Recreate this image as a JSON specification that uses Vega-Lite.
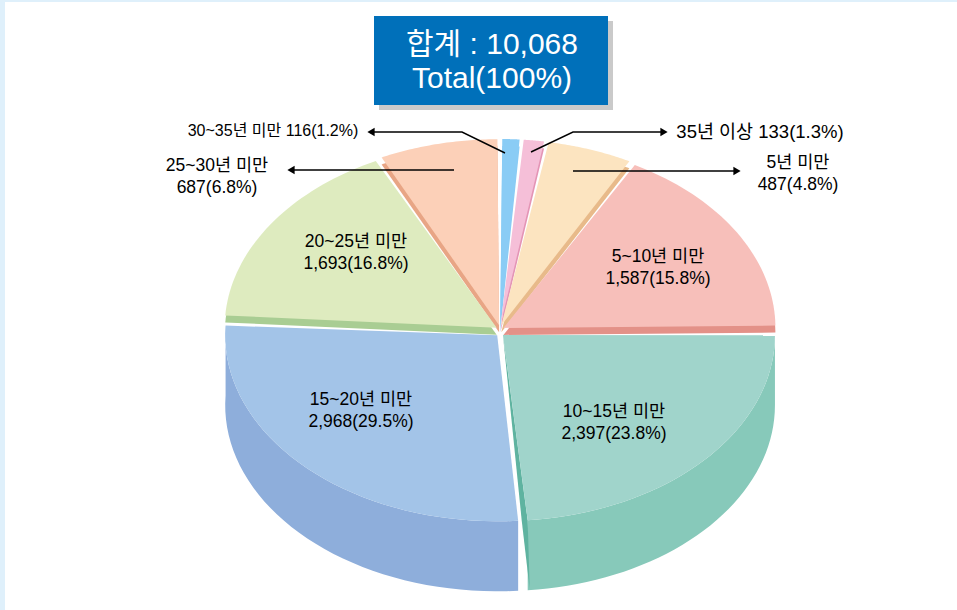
{
"$schema":"https://vega.github.io/schema/vega-lite/v6.json",
"width":952,"height":608,"padding":{"left":5,"top":2,"right":0,"bottom":0},"autosize":{"type":"none"},
"background":"#dff0fb","view":{"fill":"#ffffff","stroke":null},
"datasets":{"slices":[
{"order":1,"label":"35년 이상","count":133,"pct":1.3},
{"order":2,"label":"5년 미만","count":487,"pct":4.8},
{"order":3,"label":"5~10년 미만","count":1587,"pct":15.8},
{"order":4,"label":"10~15년 미만","count":2397,"pct":23.8},
{"order":5,"label":"15~20년 미만","count":2968,"pct":29.5},
{"order":6,"label":"20~25년 미만","count":1693,"pct":16.8},
{"order":7,"label":"25~30년 미만","count":687,"pct":6.8},
{"order":8,"label":"30~35년 미만","count":116,"pct":1.2}
]},
"data":{"name":"slices"},
"transform":[
{"window":[{"op":"sum","field":"count","as":"c1"}],"sort":[{"field":"order"}]},
{"joinaggregate":[{"op":"sum","field":"count","as":"total"}]},
{"calculate":"360*(datum.c1-datum.count)/datum.total","as":"th0"},
{"calculate":"360*datum.c1/datum.total","as":"th1"},
{"calculate":"(datum.th0+7.4+5*cos((datum.th0-120)*PI/180))*PI/180","as":"a0"},
{"calculate":"(datum.th1+6.6+5*cos((datum.th1-120)*PI/180))*PI/180","as":"a1"},
{"calculate":"(datum.a0+datum.a1)/2","as":"mid"},
{"calculate":"500+4*sin(datum.mid)","as":"cx"},
{"calculate":"331-6*cos(datum.mid)","as":"cy"},
{"calculate":"[-1,0,1,2,3,4,5,6,7,8,9,10,11,12,13,14,15,16,17,18,19,20,21,22,23,24,25,26,27,28,29,30,31,32,33,34,35,36,37,38,39,40]","as":"pts"},
{"flatten":["pts"],"as":["i"]},
{"calculate":"datum.i<0?datum.cx:datum.cx+272*sin(datum.a0+(datum.a1-datum.a0)*datum.i/40)","as":"px"},
{"calculate":"datum.i<0?datum.cy:datum.cy-186*cos(datum.a0+(datum.a1-datum.a0)*datum.i/40)","as":"py"}
],
"encoding":{
"x":{"field":"px","type":"quantitative","axis":null,"scale":{"domain":[5,957],"nice":false,"zero":false}},
"y":{"field":"py","type":"quantitative","axis":null,"scale":{"domain":[610,2],"nice":false,"zero":false}}
},
"layer":[
{"transform":[
{"filter":"datum.i>=0 && (datum.order==4 || datum.order==5)"},
{"calculate":"[0,1]","as":"sides"},{"flatten":["sides"],"as":["side"]},
{"calculate":"datum.side==0?datum.i:1000-datum.i","as":"seq"},
{"calculate":"datum.py+70*datum.side","as":"wy"}],
"mark":{"type":"line","strokeWidth":0},
"encoding":{"y":{"field":"wy","type":"quantitative"},"order":{"field":"seq","type":"quantitative"},
"fill":{"field":"label","type":"nominal","legend":null,"scale":{"domain":["10~15년 미만","15~20년 미만"],"range":["#87c9ba","#8eaedb"]}},
"detail":{"field":"label"}}},
{"transform":[
{"filter":"datum.order!=4 && datum.order!=5"}],
"mark":{"type":"line","strokeWidth":0,"yOffset":7},
"encoding":{"order":{"field":"i","type":"quantitative"},
"fill":{"field":"label","type":"nominal","legend":null,"scale":{"domain":["35년 이상","5년 미만","5~10년 미만","20~25년 미만","25~30년 미만","30~35년 미만"],"range":["#e495b5","#e8ba8a","#e39188","#a9cd93","#e8a585","#8accf5"]}},
"detail":{"field":"label"}}},
{"transform":[
{"filter":"datum.order==4 && datum.i==40"},
{"calculate":"[0,1,2,3]","as":"q"},{"flatten":["q"],"as":["k"]},
{"calculate":"datum.k==0?datum.cx:datum.k==1?datum.px:datum.k==2?datum.px+2:datum.px-6","as":"qx"},
{"calculate":"datum.k==0?datum.cy:datum.k==1?datum.py:datum.k==2?datum.py+69:datum.py","as":"qy"}],
"mark":{"type":"line","strokeWidth":0,"fill":"#5fb3a0"},
"encoding":{"x":{"field":"qx","type":"quantitative"},"y":{"field":"qy","type":"quantitative"},"order":{"field":"k","type":"quantitative"}}},
{"mark":{"type":"line","strokeWidth":0},
"encoding":{"order":{"field":"i","type":"quantitative"},
"fill":{"field":"label","type":"nominal","legend":null,"scale":{"domain":["35년 이상","5년 미만","5~10년 미만","10~15년 미만","15~20년 미만","20~25년 미만","25~30년 미만","30~35년 미만"],"range":["#f5bfd8","#fce4c0","#f7bfba","#a0d4cb","#a3c4e8","#deebbf","#fcd0b8","#8accf5"]}},
"detail":{"field":"label"}}},
{"transform":[
{"filter":"datum.i<0 && (datum.order==1||datum.order==2||datum.order==7||datum.order==8)"},
{"calculate":"{'35년 이상':[[531,152],[573,132],[664,132]],'5년 미만':[[573,171],[737,171]],'25~30년 미만':[[454,170],[291,170]],'30~35년 미만':[[505,153],[462,132],[371,132]]}[datum.label]","as":"path"},
{"flatten":["path"],"as":["pt"]},
{"window":[{"op":"row_number","as":"seq"}],"groupby":["label"]},
{"calculate":"datum.pt[0]","as":"ax"},{"calculate":"datum.pt[1]","as":"ay"}],
"mark":{"type":"line","stroke":"#000000","strokeWidth":1.4},
"encoding":{"x":{"field":"ax","type":"quantitative"},"y":{"field":"ay","type":"quantitative"},"order":{"field":"seq","type":"quantitative"},"detail":{"field":"label"}}},
{"transform":[
{"filter":"datum.i<0 && (datum.order==1||datum.order==2||datum.order==7||datum.order==8)"},
{"calculate":"{'35년 이상':[664,132],'5년 미만':[737,171],'25~30년 미만':[291,170],'30~35년 미만':[371,132]}[datum.label]","as":"pt"},
{"calculate":"datum.pt[0]","as":"ax"},{"calculate":"datum.pt[1]","as":"ay"},
{"calculate":"datum.ax>500?'triangle-right':'triangle-left'","as":"dir"}],
"mark":{"type":"point","filled":true,"opacity":1,"color":"#000000","size":70},
"encoding":{"x":{"field":"ax","type":"quantitative"},"y":{"field":"ay","type":"quantitative"},
"shape":{"field":"dir","type":"nominal","legend":null,"scale":{"domain":["triangle-left","triangle-right"],"range":["triangle-left","triangle-right"]}}}},
{"transform":[
{"filter":"datum.i<0"},
{"calculate":"{'35년 이상':[760,132],'5년 미만':[798,163],'5~10년 미만':[658,257],'10~15년 미만':[614,412],'15~20년 미만':[361,400],'20~25년 미만':[356,242],'25~30년 미만':[217,166],'30~35년 미만':[273,131]}[datum.label]","as":"pt"},
{"calculate":"datum.pt[0]","as":"tx"},{"calculate":"datum.pt[1]","as":"ty"},
{"calculate":"datum.label+(datum.count<200?' ':'\\n')+format(datum.count,',')+'('+format(datum.pct,'.1f')+'%)'","as":"txt"},
{"calculate":"datum.order==8?16:datum.order==1?18.5:17.5","as":"fs"}],
"mark":{"type":"text","font":"Liberation Sans, Noto Sans CJK KR","lineBreak":"\n","lineHeight":22,"align":"center","baseline":"middle","color":"#000000"},
"encoding":{"x":{"field":"tx","type":"quantitative"},"y":{"field":"ty","type":"quantitative"},"text":{"field":"txt"},
"size":{"field":"fs","type":"quantitative","legend":null,"scale":null}}},
{"transform":[{"filter":"datum.i<0 && datum.order==1"}],
"mark":{"type":"rect","color":"#cacaca"},
"encoding":{"x":{"datum":379},"x2":{"datum":613},"y":{"datum":21},"y2":{"datum":110}}},
{"transform":[{"filter":"datum.i<0 && datum.order==1"}],
"mark":{"type":"rect","color":"#0070ba"},
"encoding":{"x":{"datum":374},"x2":{"datum":608},"y":{"datum":16},"y2":{"datum":105}}},
{"transform":[{"filter":"datum.i<0 && datum.order==1"},{"calculate":"'합계  :  '+format(datum.total,',')+'\\nTotal(100%)'","as":"txt"}],
"mark":{"type":"text","font":"Liberation Sans, Noto Sans CJK KR","fontSize":30,"lineBreak":"\n","lineHeight":34,"align":"center","baseline":"middle","color":"#ffffff"},
"encoding":{"x":{"datum":492},"y":{"datum":45},"text":{"field":"txt"}}}
],
"resolve":{"scale":{"fill":"independent","shape":"independent"}},
"config":{"style":{"cell":{"stroke":null}}}
}
